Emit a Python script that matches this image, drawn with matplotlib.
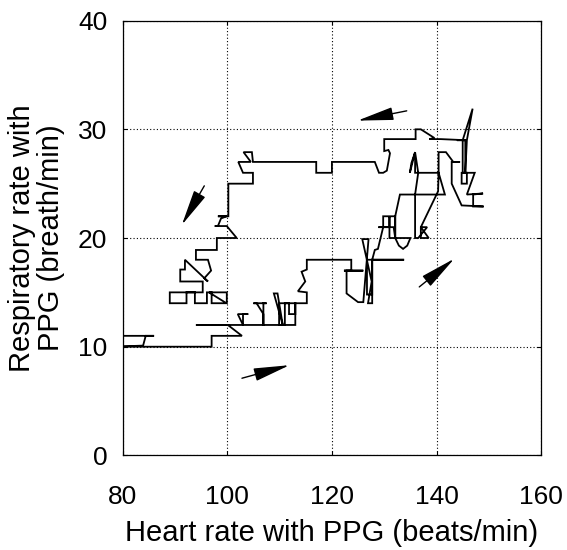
import numpy as np
import matplotlib.pyplot as plt

# heart rate / respiratory rate trajectory
hr = [78, 86, 84.4, 83.9, 78, 97, 97, 102.8, 100.1, 94,
      103, 103, 102, 104, 103, 103, 106.9, 106.9, 105.6, 105,
      107.5, 106.9, 106.9, 110.6, 108.9, 109.6, 110.6, 113, 113, 109.9,
      109.9, 111, 111, 111.8, 111.8, 113, 113, 115.2, 115.2, 113.5,
      114.9, 114.2, 115.2, 115.2, 123.7, 123.7, 122.3, 126, 122.8, 122.8,
      125, 126, 127, 125.8, 127.6, 126.9, 127.7, 127.7, 126.7, 126.7,
      127.7, 127.7, 133.8, 127.7, 128.2, 128.8, 129.5, 129.8, 129.8, 132.1,
      132.1, 131, 131, 131, 128.9, 131.8, 132.1, 132.8, 133.6, 134.4,
      135, 132.1, 132.1, 133, 135.9, 135.9, 136.5, 138.2, 137, 138.5,
      137, 137, 140.3, 140.4, 135.9, 135.9, 135.2, 134.9, 135.9, 136.5,
      136.2, 135.9, 141.6, 140.4, 140.4, 141.8, 143.2, 144.5, 142.9, 142.9,
      144.8, 149, 147, 147, 148.9, 145.8, 147.3, 144.8, 144.8, 145.8,
      145.8, 145, 145, 146.9, 145.8, 145.5, 145.5, 143.9, 145.5, 145.5,
      140.8, 138.6, 139.6, 137, 136, 136, 130, 130, 130.8, 131.1,
      130.5, 129.8, 129, 128.2, 120, 120, 117, 117, 104.9, 104.7,
      103.1, 104.5, 102.1, 103, 104.9, 104.9, 100.2, 100.2, 98.2, 99.9,
      98.8, 98.2, 97.6, 99.9, 101.8, 98, 98, 94, 94, 96.3,
      96.9, 95.6, 96.3, 91.9, 91.9, 91, 91, 95.3, 95.3, 89,
      89, 92.2, 92.2, 93.8, 93.8, 96.1, 96.1, 97, 97, 99.9,
      99.9, 96.5, 99.5]
rr = [11, 11, 11, 10.1, 10, 10, 11, 11, 12, 12,
      12, 12, 13, 13, 13, 12, 12, 13, 14, 14,
      14, 14, 12, 12, 14.9, 14.9, 12, 12, 14, 14,
      12, 12, 14, 14, 13, 13, 14, 14, 15, 15.1,
      16, 16.9, 17.1, 18, 18, 17, 17, 17, 17, 14.9,
      14.1, 14.1, 19.9, 19.9, 16, 14, 14, 18, 18, 14.8,
      14.8, 18, 18, 18, 18.9, 19, 20.4, 21, 22, 22,
      20, 20, 22, 21, 21, 21, 20, 19.3, 19, 19.3,
      20, 20, 22, 24, 24, 20, 20, 21, 21, 20,
      20, 21, 24.3, 26, 26, 27.9, 26.9, 26, 27.9, 26,
      25, 24, 24, 26, 27.9, 27.9, 27, 27, 27, 25,
      23, 22.9, 22.9, 24, 24.1, 24, 26, 26, 25, 25,
      26, 26, 29, 31.9, 29, 26, 29, 29, 29, 29,
      29.1, 29.1, 29.2, 30, 30, 29.1, 29.1, 28, 28.1, 27.8,
      26.2, 26, 26, 27, 27, 26, 26, 27, 27, 27.9,
      27.9, 27, 27, 26, 26, 25, 25, 22, 22, 22,
      21.8, 21.1, 21.1, 21.1, 20, 20, 18.9, 18.9, 18, 18,
      17, 16.3, 16, 18, 17.1, 17.1, 16, 16, 15, 15,
      14, 14, 15, 15, 14, 14, 15, 15, 14, 14,
      15, 15, 14.1]

# direction arrows (tail -> head)
arrow_tail = [(134.3, 31.7), (95.6, 24.8), (102.8, 7.1), (136.7, 15.5)]
arrow_head = [(124.9, 30.8), (91.3, 21.2), (111.9, 8.3), (143.4, 18.1)]

plt.rcParams['font.family'] = ['Liberation Sans', 'DejaVu Sans']

fig = plt.figure(figsize=(5.67, 5.5), dpi=100)
ax = fig.add_axes([0.2164, 0.172, 0.738, 0.7905])

ax.plot(hr, rr, color='k', lw=1.3, solid_joinstyle='miter')

for t, h in zip(arrow_tail, arrow_head):
    ax.annotate('', xy=h, xytext=t,
                arrowprops=dict(arrowstyle='-|>,head_length=1.4,head_width=0.25',
                                color='k', lw=1.0, mutation_scale=16,
                                shrinkA=0, shrinkB=0))

ax.set_xlim(80, 160)
ax.set_ylim(0, 40)
ax.set_xticks([80, 100, 120, 140, 160])
ax.set_yticks([0, 10, 20, 30, 40])
ax.grid(True, color='k', linestyle=(0, (1, 2)), lw=0.8)
ax.tick_params(direction='in', length=3, top=True, right=True, labelsize=19)
ax.tick_params(axis='x', pad=21)
ax.tick_params(axis='y', pad=11)
for s in ax.spines.values():
    s.set_linewidth(0.9)

ax.set_xlabel('Heart rate with PPG (beats/min)', fontsize=21)
ax.set_ylabel('Respiratory rate with\nPPG (breath/min)', fontsize=21,
              linespacing=1.05)
ax.xaxis.set_label_coords(0.5, -0.147)
ax.yaxis.set_label_coords(-0.137, 0.5)

fig.savefig('out.png', dpi=100)
